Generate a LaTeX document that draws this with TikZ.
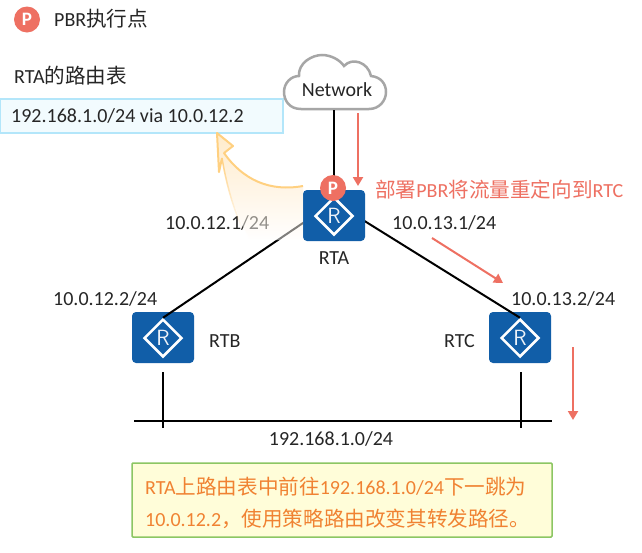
\documentclass[tikz,border=0pt]{standalone}
\usepackage{fontspec}
\setmainfont{Carlito}
\newfontfamily\cjk[Scale=1.03]{Noto Sans CJK SC}
\usetikzlibrary{shapes.geometric,arrows.meta,fadings}
\definecolor{myblue}{RGB}{17,94,168}
\definecolor{myred}{RGB}{238,112,98}
\definecolor{mygray}{RGB}{166,166,166}
\definecolor{myorange}{RGB}{240,130,50}
\definecolor{myyellow}{RGB}{255,208,128}
\definecolor{mygreen}{RGB}{140,198,99}
\newcommand{\zh}[1]{{\cjk #1}}
\tikzset{
	label20/.style={font=\fontsize{20}{24}\selectfont, inner sep=0pt, text=black!85},
	routerbody/.style={draw=none, fill=myblue, rounded corners=4pt, minimum width=62pt, minimum height=51pt, inner sep=0pt},
	routermark/.style={shape=diamond, draw=white, line width=2.5pt, minimum width=38pt, minimum height=38pt, inner sep=0pt, text=white!92!myblue, font=\fontsize{22}{22}\sffamily},
	badge/.style={circle, fill=myred, minimum size=26pt, inner sep=0pt, text=white, font=\fontsize{19}{19}\selectfont\bfseries},
	wire/.style={black, line width=2pt},
	flow/.style={myred, line width=2pt, -{Triangle[length=9pt,width=10pt]}}
}
\begin{document}
\begin{tikzpicture}[x=1pt,y=-1pt]
	\useasboundingbox[fill=white] (0,0) rectangle (642,552);

	%Legend
	\node[badge] (legend) at (27,19.5) {P};
	\node[label20, anchor=west] (legendtext) at (54,19) {PBR\zh{执行点}};

	%Routing table
	\node[label20, anchor=west] (tabletitle) at (14,76) {RTA\zh{的路由表}};
	\node[draw=cyan!30, line width=1.5pt, fill=cyan!5, minimum width=283pt, minimum height=34pt, inner sep=0pt] (table) at (141.5,116) {};
	\node[label20, anchor=west] (tableroute) at (11,116) {192.168.1.0/24 via 10.0.12.2};

	%Cloud
	\draw[mygray, line width=2.5pt, fill=white]
	(301,109) .. controls (289,109) and (284,100) .. (284,92)
	.. controls (284,83) and (291,76) .. (299,76)
	.. controls (298,63) and (312,55) .. (322,55)
	.. controls (331,55) and (340,60) .. (344,66)
	.. controls (352,57) and (368,62) .. (371,76)
	.. controls (381,77) and (386,84) .. (386,92)
	.. controls (386,101) and (379,109) .. (369,109) -- cycle;
	\node[label20] (network) at (337,90) {Network};
	\coordinate (cloudbottom) at (334,110);

	%Routers RTB and RTC
	\node[routerbody] (RTB) at (163,337.5) {};
	\node[routermark] (RTBmark) at (163,338) {R};
	\node[routerbody] (RTC) at (520,337.5) {};
	\node[routermark] (RTCmark) at (520,338) {R};

	%Links, meeting behind RTA
	\coordinate (RTAjoin) at (334,202);
	\draw[wire] (RTAjoin) -- (RTBmark.north);
	\draw[wire] (RTAjoin) -- (RTCmark.north);
	\draw[wire] (cloudbottom) -- (RTAjoin);

	%Router RTA
	\node[routerbody] (RTA) at (334,215.5) {};
	\node[routermark] (RTAmark) at (334,216) {R};
	\node[badge] (pbr) at (333,188) {P};

	%Bus
	\coordinate (busleft) at (134,421);
	\coordinate (busright) at (552,421);
	\draw[wire] (busleft) -- (busright);
	\draw[wire] (163,372) coordinate (RTBtop) -- (163,428) coordinate (RTBend);
	\draw[wire] (521,372) coordinate (RTCtop) -- (521,428) coordinate (RTCend);

	%Labels
	\node[label20, anchor=west] (rtaleft) at (165,223) {10.0.12.1/24};
	\node[label20, anchor=west] (rtaright) at (392,223) {10.0.13.1/24};
	\node[label20, anchor=west] (rtbaddr) at (53,299) {10.0.12.2/24};
	\node[label20, anchor=west] (rtcaddr) at (511,299) {10.0.13.2/24};
	\node[label20] (rtaname) at (334,258) {RTA};
	\node[label20, anchor=west] (rtbname) at (209,341) {RTB};
	\node[label20, anchor=west] (rtcname) at (444,341) {RTC};
	\node[label20] (subnet) at (331,439) {192.168.1.0/24};

	%Traffic direction
	\coordinate (flowa) at (358,113);
	\coordinate (flowb) at (358,186);
	\coordinate (flowc) at (432,238);
	\coordinate (flowd) at (503,283);
	\coordinate (flowe) at (573,347);
	\coordinate (flowf) at (573,420);
	\draw[flow] (flowa) -- (flowb);
	\draw[flow] (flowc) -- (flowd);
	\draw[flow] (flowe) -- (flowf);
	\node[label20, anchor=west, text=myred] (deploy) at (375,190) {\zh{部署}PBR\zh{将流量重定向到}RTC};

	%Curved arrow towards the table
	\shade[top color=myyellow!80, bottom color=white, opacity=.5]
	(303,186) .. controls (270,192) and (243,180) .. (224,153)
	-- (233,146) -- (217,133) -- (219,172) -- (222,158)
	.. controls (226,182) and (235,212) .. (250,240) -- (303,240) -- cycle;
	\draw[myyellow, line width=2pt, line join=round]
	(303,186) .. controls (270,192) and (243,180) .. (224,153)
	-- (233,146) -- (217,133) -- (219,172) -- (222,158);
	\draw[myyellow, line width=1.5pt, path fading=south]
	(222,158) .. controls (226,182) and (232,205) .. (243,230);

	%Note
	\node[draw=mygreen, line width=1.5pt, fill=yellow!15, rounded corners=1pt, minimum width=420pt, minimum height=74pt, inner sep=0pt] (note) at (342,500) {};
	\node[label20, anchor=west, text=myorange] (notea) at (145,487) {RTA\zh{上路由表中前往}192.168.1.0/24\zh{下一跳为}};
	\node[label20, anchor=west, text=myorange] (noteb) at (145,519) {10.0.12.2\zh{，使用策略路由改变其转发路径。}};
\end{tikzpicture}
\end{document}
